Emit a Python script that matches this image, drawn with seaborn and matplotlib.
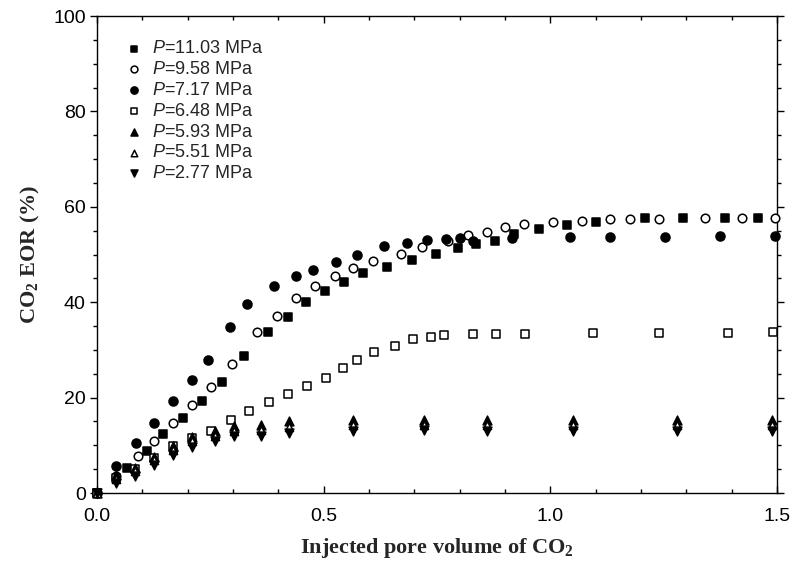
import numpy as np
import pandas as pd
import matplotlib
matplotlib.use("Agg")
import matplotlib.pyplot as plt
from matplotlib.ticker import MultipleLocator
import seaborn as sns

# ---- data ----
labels = ["11.03", "9.58", "7.17", "6.48", "5.93", "5.51", "2.77"]

x_1103 = [0, 0.066, 0.110, 0.146, 0.189, 0.231, 0.275, 0.325, 0.378, 0.421, 0.461, 0.504, 0.545, 0.587,
          0.640, 0.695, 0.748, 0.797, 0.837, 0.879, 0.920, 0.974, 1.037, 1.101, 1.209, 1.292, 1.385, 1.459]
y_1103 = [0, 5.2, 8.9, 12.3, 15.8, 19.3, 23.2, 28.8, 33.8, 37.0, 40.0, 42.4, 44.2, 46.2,
          47.4, 48.9, 50.1, 51.3, 52.1, 52.9, 54.2, 55.4, 56.1, 56.9, 57.6, 57.6, 57.6, 57.7]

x_958 = [0, 0.042, 0.091, 0.126, 0.168, 0.210, 0.251, 0.298, 0.354, 0.398, 0.440, 0.482, 0.524, 0.565,
         0.609, 0.670, 0.718, 0.775, 0.818, 0.860, 0.901, 0.943, 1.007, 1.069, 1.132, 1.176, 1.240,
         1.341, 1.422, 1.496]
y_958 = [0, 3.6, 7.8, 10.9, 14.7, 18.4, 22.2, 27.1, 33.7, 37.2, 40.8, 43.3, 45.4, 47.2,
         48.6, 50.2, 51.5, 52.8, 54.0, 54.8, 55.7, 56.5, 56.9, 57.1, 57.4, 57.5, 57.4,
         57.6, 57.6, 57.6]

x_717 = [0, 0.042, 0.086, 0.126, 0.168, 0.210, 0.245, 0.293, 0.332, 0.390, 0.438, 0.477, 0.527, 0.574,
         0.634, 0.683, 0.727, 0.770, 0.801, 0.830, 0.915, 1.043, 1.132, 1.253, 1.374, 1.496]
y_717 = [0, 5.7, 10.4, 14.6, 19.2, 23.7, 27.8, 34.9, 39.7, 43.3, 45.4, 46.8, 48.5, 50.0,
         51.7, 52.4, 53.0, 53.2, 53.5, 52.8, 53.4, 53.6, 53.6, 53.6, 53.8, 53.8]

x_648 = [0, 0.042, 0.084, 0.126, 0.168, 0.210, 0.251, 0.295, 0.336, 0.379, 0.421, 0.463, 0.505, 0.543,
         0.573, 0.612, 0.658, 0.698, 0.736, 0.765, 0.829, 0.880, 0.944, 1.094, 1.240, 1.393, 1.492]
y_648 = [0, 3.2, 5.0, 7.3, 9.9, 11.5, 13.1, 15.3, 17.2, 19.1, 20.8, 22.5, 24.1, 26.2,
         27.8, 29.5, 30.9, 32.3, 32.8, 33.1, 33.3, 33.4, 33.4, 33.5, 33.5, 33.5, 33.7]

x_tri = [0, 0.042, 0.084, 0.126, 0.168, 0.210, 0.260, 0.302, 0.362, 0.423, 0.565, 0.721, 0.860,
         1.050, 1.280, 1.489]
y_593 = [0, 3.8, 5.3, 7.6, 9.9, 11.8, 13.0, 14.0, 14.3, 15.2, 15.4, 15.4, 15.4, 15.4, 15.4, 15.4]
y_551 = [0, 2.9, 4.6, 6.9, 9.0, 10.8, 12.0, 12.9, 13.2, 13.9, 14.3, 14.3, 14.3, 14.3, 14.3, 14.2]
y_277 = [0, 2.0, 3.6, 5.9, 8.0, 9.7, 10.8, 12.0, 12.0, 12.6, 13.1, 13.2, 13.1, 13.1, 13.1, 13.1]

xticks = [0.0, 0.5, 1.0, 1.5]
yticks = [0, 20, 40, 60, 80, 100]

series = [
    (labels[0], x_1103, y_1103, "s", "black", 30),
    (labels[1], x_958, y_958, "o", "white", 38),
    (labels[2], x_717, y_717, "o", "black", 42),
    (labels[3], x_648, y_648, "s", "white", 30),
    (labels[4], x_tri, y_593, "^", "black", 40),
    (labels[5], x_tri, y_551, "^", "white", 34),
    (labels[6], x_tri, y_277, "v", "black", 40),
]

frames = []
for lab, xs, ys, *_ in series:
    frames.append(pd.DataFrame({"pv": xs, "eor": ys, "P": lab}))
df = pd.concat(frames, ignore_index=True)

# ---- style ----
sns.set_style("ticks")
plt.rcParams["font.family"] = ["Liberation Sans", "DejaVu Sans"]
plt.rcParams["mathtext.fontset"] = "custom"
plt.rcParams["mathtext.it"] = "Liberation Sans:italic"
plt.rcParams["mathtext.rm"] = "Liberation Sans"
plt.rcParams["mathtext.bf"] = "Liberation Serif:bold"

fig = plt.figure(figsize=(7.93, 5.72), dpi=100)
ax = fig.add_axes([0.1223, 0.1381, 0.8575, 0.8339])

for lab, xs, ys, mk, fc, s in series:
    sub = df[df["P"] == lab]
    sns.scatterplot(data=sub, x="pv", y="eor", marker=mk, s=s, color=fc,
                    edgecolor="black", linewidth=1.1, ax=ax, clip_on=False, zorder=3,
                    label=r"$\mathit{P}$=" + lab + " MPa")

ax.set_xlim(0, 1.5)
ax.set_ylim(0, 100)
ax.set_xticks(xticks)
ax.set_xticklabels([f"{v:.1f}" for v in xticks])
ax.set_yticks(yticks)
ax.xaxis.set_minor_locator(MultipleLocator(0.1))
ax.yaxis.set_minor_locator(MultipleLocator(5))

ax.tick_params(axis="x", which="both", direction="in", top=True, bottom=True,
               labelsize=14, colors="black", pad=11)
ax.tick_params(axis="y", which="both", direction="out", left=True, right=True,
               labelsize=14, colors="black", pad=3)
ax.tick_params(which="major", length=5, width=1)
ax.tick_params(which="minor", length=3, width=1)
for sp in ax.spines.values():
    sp.set_visible(True)
    sp.set_color("black")
    sp.set_linewidth(1.0)

ax.set_xlabel(r"Injected pore volume of CO$_\mathbf{2}$", fontfamily="Liberation Serif",
              fontweight="bold", fontsize=16, labelpad=8)
ax.set_ylabel(r"CO$_\mathbf{2}$ EOR (%)", fontfamily="Liberation Serif",
              fontweight="bold", fontsize=16, labelpad=8)

leg = ax.legend(loc="upper left", bbox_to_anchor=(0.03, 0.964), frameon=False,
                fontsize=13, handlelength=1.0, handletextpad=0.5, labelspacing=0.21,
                markerscale=0.8, borderaxespad=0)

fig.savefig("out.png", dpi=100)
